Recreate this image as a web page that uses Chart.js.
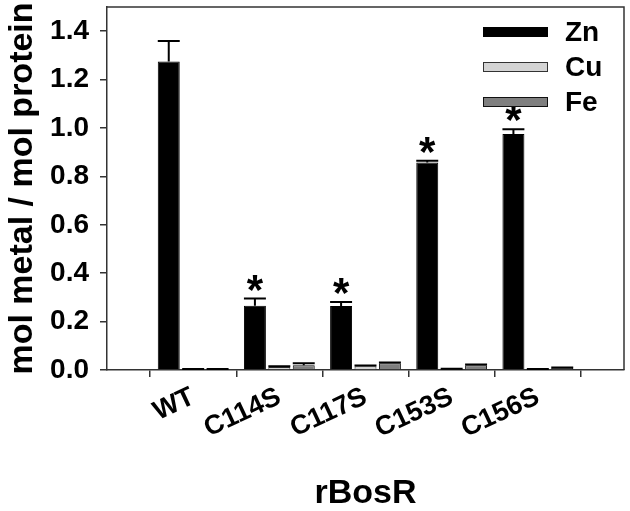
<!DOCTYPE html>
<html>
<head>
<meta charset="utf-8">
<script src="https://cdn.jsdelivr.net/npm/chart.js@4.4.1/dist/chart.umd.min.js"></script>
<style>
  html, body { margin: 0; padding: 0; background: #fff; }
  #wrap { width: 630px; height: 511px; }
</style>
</head>
<body>
<div id="wrap"><canvas id="myChart" width="630" height="511"></canvas></div>
<script>
// data
const categories = ['WT', 'C114S', 'C117S', 'C153S', 'C156S'];
const zn    = [1.275, 0.266, 0.264, 0.857, 0.975];
const znErr = [0.085, 0.029, 0.017, 0.008, 0.020];
const cu    = [0.003, 0.012, 0.015, 0.004, 0.003];
const cuErr = [0.001, 0.003, 0.004, 0.001, 0.001];
const fe    = [0.003, 0.020, 0.028, 0.020, 0.008];
const feErr = [0.001, 0.008, 0.003, 0.003, 0.002];
const significant = [false, true, true, true, true];
const yTicks = [0, 0.2, 0.4, 0.6, 0.8, 1.0, 1.2, 1.4];

const FONT = '"Liberation Sans", Arial, sans-serif';

// empty slot at each end so the groups sit where the original puts them
const labels = ['', ...categories, ''];
const pad = arr => [null, ...arr, null];

const errorBars = {
  id: 'errorBars',
  afterDatasetsDraw(chart) {
    const ctx = chart.ctx;
    const y = chart.scales.y;
    ctx.save();
    chart.data.datasets.forEach((ds, di) => {
      const meta = chart.getDatasetMeta(di);
      meta.data.forEach((bar, i) => {
        const v = ds.data[i];
        if (v == null) return;
        const e = ds.err[i];
        const top = y.getPixelForValue(v + e);
        const half = bar.width / 2;
        ctx.strokeStyle = '#000';
        ctx.lineWidth = 2;
        ctx.beginPath();
        ctx.moveTo(bar.x, bar.y);
        ctx.lineTo(bar.x, top);
        ctx.moveTo(bar.x - half, top);
        ctx.lineTo(bar.x + half, top);
        ctx.stroke();
        if (di === 0 && ds.stars[i]) {
          ctx.fillStyle = '#000';
          ctx.font = 'bold 42px ' + FONT;
          ctx.textAlign = 'center';
          ctx.textBaseline = 'alphabetic';
          ctx.fillText('*', bar.x, top + 5);
        }
      });
    });
    ctx.restore();
  }
};

const frameAndLegend = {
  id: 'frameAndLegend',
  afterDraw(chart) {
    const ctx = chart.ctx;
    const a = chart.chartArea;
    ctx.save();
    ctx.strokeStyle = '#333';
    ctx.lineWidth = 1.5;
    ctx.beginPath();
    ctx.moveTo(a.left, a.top);
    ctx.lineTo(a.right, a.top);
    ctx.lineTo(a.right, a.bottom);
    ctx.stroke();

    // legend
    const x0 = 483, y0 = 32, gap = 35, w = 65, h = 10;
    chart.data.datasets.forEach((ds, i) => {
      const cy = y0 + i * gap;
      ctx.fillStyle = ds.backgroundColor;
      ctx.fillRect(x0, cy - h / 2, w, h);
      ctx.strokeStyle = ds.borderColor;
      ctx.lineWidth = 1;
      ctx.strokeRect(x0 + 0.5, cy - h / 2 + 0.5, w - 1, h - 1);
      ctx.fillStyle = '#000';
      ctx.font = 'bold 28px ' + FONT;
      ctx.textAlign = 'left';
      ctx.textBaseline = 'middle';
      ctx.fillText(ds.label, x0 + 82, cy + 1);
    });
    ctx.restore();
  }
};

new Chart(document.getElementById('myChart').getContext('2d'), {
  type: 'bar',
  data: {
    labels: labels,
    datasets: [
      { label: 'Zn', data: pad(zn), err: pad(znErr), stars: pad(significant),
        backgroundColor: '#000', borderColor: '#000', borderWidth: 1 },
      { label: 'Cu', data: pad(cu), err: pad(cuErr), stars: pad([]),
        backgroundColor: '#d4d4d4', borderColor: '#333', borderWidth: 1 },
      { label: 'Fe', data: pad(fe), err: pad(feErr), stars: pad([]),
        backgroundColor: '#7f7f7f', borderColor: '#111', borderWidth: 1 }
    ]
  },
  options: {
    responsive: false,
    animation: false,
    layout: { padding: { left: 0, right: 6, top: 7, bottom: 0 } },
    categoryPercentage: 0.85,
    barPercentage: 0.9,
    plugins: { legend: { display: false }, tooltip: { enabled: false } },
    scales: {
      x: {
        offset: false,
        afterFit(s) { s.height = 141; s.paddingLeft = 0; s.paddingRight = 0; },
        grid: { display: true, drawOnChartArea: false, drawTicks: true, tickLength: 7, color: '#333', lineWidth: 1.5 },
        border: { display: true, color: '#333', width: 1.5 },
        ticks: {
          color: '#000', font: { family: FONT, size: 27, weight: 'bold' },
          minRotation: 25, maxRotation: 25, padding: 4, autoSkip: false
        },
        title: {
          display: true, text: 'rBosR', color: '#000',
          font: { family: FONT, size: 34, weight: 'bold', lineHeight: 1 },
          padding: { top: 0, bottom: 0 }
        }
      },
      y: {
        min: 0, max: 1.5,
        afterFit(s) { s.width = 107; s.paddingTop = 0; s.paddingBottom = 0; },
        afterBuildTicks(s) { s.ticks = yTicks.map(v => ({ value: v })); },
        grid: { display: true, drawOnChartArea: false, drawTicks: true, tickLength: 7, color: '#333', lineWidth: 1.5 },
        border: { display: true, color: '#333', width: 1.5 },
        ticks: {
          color: '#000', font: { family: FONT, size: 28, weight: 'bold' }, padding: 11,
          callback: v => Number(v).toFixed(1)
        },
        title: {
          display: true, text: 'mol metal / mol protein', color: '#000',
          font: { family: FONT, size: 34, weight: 'bold', lineHeight: 1.2 },
          padding: { top: 2, bottom: 0 }
        }
      }
    }
  },
  plugins: [errorBars, frameAndLegend]
});
</script>
</body>
</html>
